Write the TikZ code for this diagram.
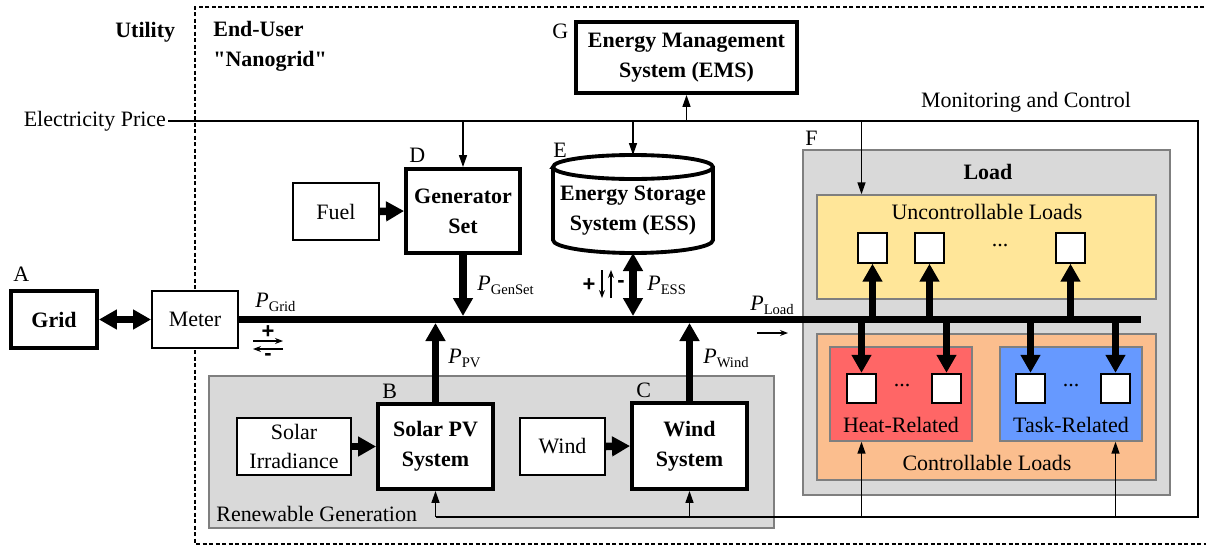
\documentclass[tikz,border=0pt]{standalone}
\usepackage{fontspec}
\setmainfont{Liberation Serif}[Ligatures=TeXOff]
\setsansfont{Liberation Sans}
\usetikzlibrary{arrows.meta}
\definecolor{ngGris}{HTML}{D9D9D9}
\definecolor{ngBorde}{HTML}{7F7F7F}
\definecolor{ngAmarillo}{HTML}{FFE699}
\definecolor{ngNaranja}{HTML}{FBBE8E}
\definecolor{ngRojo}{HTML}{FF6666}
\definecolor{ngAzul}{HTML}{6699FF}
\newcommand{\tam}{\fontsize{12.5}{17}\selectfont}
\newcommand{\pot}[1]{\textit{P}\raisebox{-2.4pt}{\fontsize{8.3}{9}\selectfont #1}}
\tikzset{
  bloque/.style={draw, line width=2.2pt, fill=white, font=\tam\bfseries, align=center, inner sep=0pt},
  caja/.style={draw, line width=1.1pt, fill=white, align=center, inner sep=0pt},
  zona/.style={draw=ngBorde, line width=0.8pt, inner sep=0pt},
  cuadro/.style={draw, line width=1.1pt, fill=white, minimum size=5.9mm, inner sep=0pt},
  senal/.style={line width=0.85pt, -{Triangle[length=2.4mm,width=1.6mm]}},
  flujo/.style={line width=1.5mm, -{Triangle[length=3.6mm,width=3.8mm]}},
  flujodoble/.style={line width=1.5mm, {Triangle[length=3.6mm,width=3.8mm]}-{Triangle[length=3.6mm,width=3.8mm]}},
  etiqueta/.style={anchor=base west, inner sep=0pt},
  signo/.style={font=\tam\sffamily\bfseries, inner sep=0pt},
  flechita/.style={line width=0.6pt, -{Stealth[length=1.6mm,width=1.2mm]}},
}

\begin{document}
\begin{tikzpicture}[x=0.2mm, y=-0.2mm, font=\tam]
        \useasboundingbox (0,0) rectangle (1206,546);
        % limite del usuario final
        \draw[line width=0.9pt, dash pattern=on 0.8mm off 0.5mm] (1230,7) -- (195,7) -- (195,544) -- (1230,544);
        \node[etiqueta, font=\tam\bfseries] (utility) at (115,37) {Utility};
        \node[etiqueta, font=\tam\bfseries, align=left] (enduser) at (213,66) {End-User\\"Nanogrid"};

        % zonas grises y cargas
        \node[zona, fill=ngGris, minimum width=113mm, minimum height=30.4mm] (renov) at (491.5,452) {};
        \node[etiqueta] (trenov) at (216,521) {Renewable Generation};
        \node[zona, fill=ngGris, minimum width=73.4mm, minimum height=69mm] (carga) at (986.5,322.5) {};
        \node[zona, fill=ngAmarillo, minimum width=67.8mm, minimum height=20.8mm] (nocont) at (986.5,247) {};
        \node[zona, fill=ngNaranja, minimum width=67.8mm, minimum height=29.2mm] (cont) at (986.5,407) {};
        \node[zona, fill=ngRojo, minimum width=28.4mm, minimum height=18.8mm] (calor) at (901,394) {};
        \node[zona, fill=ngAzul, minimum width=28.4mm, minimum height=18.8mm] (tarea) at (1071,394) {};
        \node[font=\tam\bfseries] (tcarga) at (988,172) {Load};
        \node (tnocont) at (987,212) {Uncontrollable Loads};
        \node (tcont) at (987,463) {Controllable Loads};
        \node (tcalor) at (901,425) {Heat-Related};
        \node (ttarea) at (1071,425) {Task-Related};
        \foreach \n/\x in {1/872.5,2/929.5,3/1070.5}
          {\node[cuadro] (nc\n) at (\x,248) {};}
        \foreach \n/\x in {hr1/861.5,hr2/946.5,tr1/1030.5,tr2/1115.5}
          {\node[cuadro] (\n) at (\x,388.5) {};}
        \node (pnc) at (1000,246) {...};
        \node (phr) at (902,386) {...};
        \node (ptr) at (1071,386) {...};

        % bloques
        \node[bloque, minimum width=17.2mm, minimum height=11.4mm] (grid) at (54,319.5) {Grid};
        \node[caja, minimum width=17.2mm, minimum height=11.4mm] (meter) at (195,319.5) {Meter};
        \node[bloque, minimum width=44.2mm, minimum height=14.2mm] (ems) at (686.5,57.5) {Energy Management\\System (EMS)};
        \node[bloque, minimum width=22.8mm, minimum height=16.8mm] (gen) at (463,211) {Generator\\Set};
        \node[caja, minimum width=17.2mm, minimum height=11.4mm] (fuel) at (336,211.5) {Fuel};
        \node[caja, minimum width=22.8mm, minimum height=11.4mm] (irr) at (294,446.5) {Solar\\Irradiance};
        \node[bloque, minimum width=23mm, minimum height=17mm] (pv) at (435.5,446.5) {Solar PV\\System};
        \node[caja, minimum width=17mm, minimum height=11.4mm] (viento) at (562.5,446.5) {Wind};
        \node[bloque, minimum width=23mm, minimum height=17.2mm] (eolico) at (689.5,446) {Wind\\System};
        \draw[line width=2.2pt, fill=white] (553,167) -- (553,240)
          arc[start angle=180, end angle=360, x radius=16mm, y radius=2.6mm] -- (713,167)
          arc[start angle=0, end angle=180, x radius=16mm, y radius=2.4mm] -- cycle;
        \draw[line width=2.2pt] (553,167) arc[start angle=180, end angle=360, x radius=16mm, y radius=2.4mm];
        \node[font=\tam\bfseries, align=center] (ess) at (633,211) {Energy Storage\\System (ESS)};
        \coordinate (esstop) at (633,155);
        \coordinate (essbot) at (633,253);

        % letras
        \node[etiqueta] (la) at (13,281) {A};
        \node[etiqueta] (lb) at (382,398) {B};
        \node[etiqueta] (lc) at (636,397) {C};
        \node[etiqueta] (ld) at (409,162) {D};
        \node[etiqueta] (le) at (553,157) {E};
        \node[etiqueta] (lf) at (805,145) {F};
        \node[etiqueta] (lg) at (552,38) {G};

        % bus de potencia
        \coordinate (busfin) at (1141,319.5);
        \draw[line width=1.5mm] (meter.east) -- (busfin);
        \draw[flujodoble] (grid.east) -- (meter.west);
        \draw[flujo] (fuel.east) -- (gen.west);
        \draw[flujo] (irr.east) -- (pv.west);
        \draw[flujo] (viento.east) -- (eolico.west);
        \draw[flujo, shorten >=0.7mm] (gen.south) -- (gen.south |- busfin);
        \draw[flujodoble, shorten >=0.7mm] (essbot) -- (essbot |- busfin);
        \draw[flujo, shorten >=0.7mm] (pv.north) -- (pv.north |- busfin);
        \draw[flujo, shorten >=0.7mm] (eolico.north) -- (eolico.north |- busfin);
        \foreach \n in {nc1,nc2,nc3}
          {\draw[flujo] (\n.south |- busfin) -- (\n.south);}
        \foreach \n in {hr1,hr2,tr1,tr2}
          {\draw[flujo] (\n.north |- busfin) -- (\n.north);}
        \node[etiqueta] (pgrid) at (255,307) {\pot{Grid}};
        \node[etiqueta] (pgen) at (477,290) {\pot{GenSet}};
        \node[etiqueta] (pess) at (647,290) {\pot{ESS}};
        \node[etiqueta] (pload) at (750,310) {\pot{Load}};
        \node[etiqueta] (ppv) at (448,363) {\pot{PV}};
        \node[etiqueta] (pwind) at (703,363) {\pot{Wind}};

        % signos de flujo
        \node[signo] (smas) at (268,332) {+};
        \node[signo] (smenos) at (268,357) {-};
        \draw[flechita] (253,341) -- (283,341);
        \draw[flechita] (283,349) -- (253,349);
        \node[signo] (emas) at (589,285) {+};
        \node[signo] (emenos) at (621,284) {-};
        \draw[flechita] (602,270) -- (602,298);
        \draw[flechita] (611,298) -- (611,270);
        \coordinate (cargaflecha) at (757,333);
        \draw[flechita] (cargaflecha) -- ++(31,0);

        % monitoreo y control
        \node[anchor=east, inner sep=1pt] (precio) at (168,121) {Electricity Price};
        \node (monitor) at (1026,102) {Monitoring and Control};
        \coordinate (mcne) at (1198,121);
        \coordinate (mcse) at (1198,517);
        \draw[line width=0.85pt] (precio.east) -- (mcne) -- (mcse) -- (pv.south |- mcse);
        \draw[senal] (gen.north |- mcne) -- (gen.north);
        \draw[senal] (esstop |- mcne) -- (esstop);
        \draw[senal] (ems.south |- mcne) -- (ems.south);
        \draw[senal] (hr1 |- mcne) -- (hr1 |- nocont.north);
        \draw[senal] (pv.south |- mcse) -- (pv.south);
        \draw[senal] (eolico.south |- mcse) -- (eolico.south);
        \draw[senal] (hr1 |- mcse) -- (hr1 |- calor.south);
        \draw[senal] (tr2 |- mcse) -- (tr2 |- tarea.south);
      \end{tikzpicture}
\end{document}
